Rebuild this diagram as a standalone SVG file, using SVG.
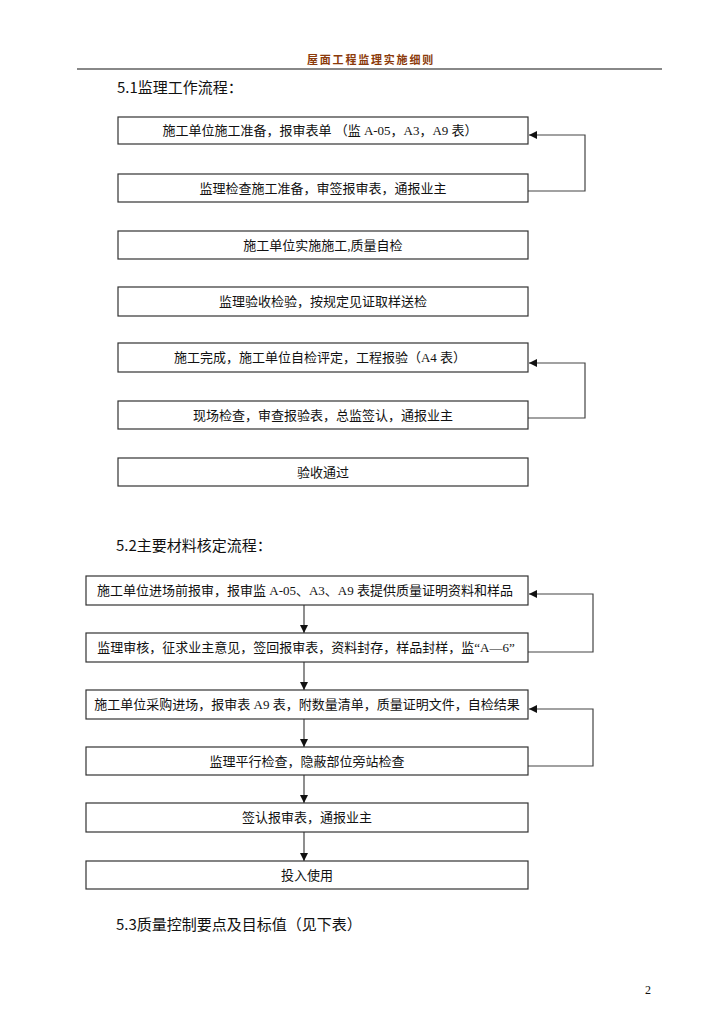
<svg xmlns="http://www.w3.org/2000/svg" width="726" height="1026" viewBox="0 0 726 1026">
<style>
.box{fill:#fff;stroke:#333;stroke-width:1.2}
.t{font-family:"Liberation Serif","Noto Sans CJK SC",serif;font-size:13px;fill:#111;text-anchor:middle}
.h{font-family:"Noto Sans CJK SC",sans-serif;font-size:15px;fill:#111}
.c{fill:none;stroke:#444;stroke-width:1.2}
</style>
<defs>
<marker id="ah" viewBox="0 0 8 8" refX="8" refY="4" markerWidth="8" markerHeight="8" markerUnits="userSpaceOnUse" orient="auto">
<path d="M0,0 L8,4 L0,8 Z" fill="#111"/>
</marker>
</defs>
<rect width="726" height="1026" fill="#fff"/>
<g id="header">
<text x="371" y="64" text-anchor="middle" font-family="Noto Sans CJK SC,sans-serif" font-size="11" font-weight="bold" letter-spacing="1.8" fill="#8B3A0A">屋面工程监理实施细则</text>
<line x1="77" y1="69" x2="662" y2="69" stroke="#888" stroke-width="2"/>
</g>
<text id="title1" class="h" x="117" y="93">5.1监理工作流程：</text>
<text id="title2" class="h" x="116" y="551">5.2主要材料核定流程：</text>
<text id="title3" class="h" x="116" y="930">5.3质量控制要点及目标值（见下表）</text>
<text id="pagenum" x="645" y="994" font-family="Liberation Serif,serif" font-size="12" fill="#111">2</text>

<g id="connectors">
<polyline class="c" points="528,191 585,191 585,135 529,135" marker-end="url(#ah)"/>
<polyline class="c" points="528,418 585,418 585,363 529,363" marker-end="url(#ah)"/>
<polyline class="c" points="528,652 593,652 593,594 529,594" marker-end="url(#ah)"/>
<polyline class="c" points="528,766 593,766 593,709 529,709" marker-end="url(#ah)"/>
<line class="c" x1="304" y1="605" x2="304" y2="633" marker-end="url(#ah)"/>
<line class="c" x1="304" y1="662" x2="304" y2="690" marker-end="url(#ah)"/>
<line class="c" x1="304" y1="719" x2="304" y2="747" marker-end="url(#ah)"/>
<line class="c" x1="304" y1="775" x2="304" y2="803" marker-end="url(#ah)"/>
<line class="c" x1="304" y1="832" x2="304" y2="861" marker-end="url(#ah)"/>
</g>

<g id="n1"><rect class="box" x="118" y="117" width="410" height="27"/><text class="t" x="320" y="135">施工单位施工准备，报审表单 （监 A-05，A3，A9 表）</text></g>
<g id="n2"><rect class="box" x="118" y="174" width="410" height="28"/><text class="t" x="323" y="193">监理检查施工准备，审签报审表，通报业主</text></g>
<g id="n3"><rect class="box" x="118" y="231" width="410" height="28"/><text class="t" x="323" y="250">施工单位实施施工,质量自检</text></g>
<g id="n4"><rect class="box" x="118" y="287" width="410" height="29"/><text class="t" x="323" y="306">监理验收检验，按规定见证取样送检</text></g>
<g id="n5"><rect class="box" x="118" y="343" width="410" height="29"/><text class="t" x="320" y="362">施工完成，施工单位自检评定，工程报验（A4 表）</text></g>
<g id="n6"><rect class="box" x="118" y="401" width="410" height="28"/><text class="t" x="323" y="420">现场检查，审查报验表，总监签认，通报业主</text></g>
<g id="n7"><rect class="box" x="118" y="458" width="410" height="28"/><text class="t" x="323" y="477">验收通过</text></g>

<g id="m1"><rect class="box" x="86" y="576" width="442" height="29"/><text class="t" x="305" y="595">施工单位进场前报审，报审监 A-05、A3、A9 表提供质量证明资料和样品</text></g>
<g id="m2"><rect class="box" x="86" y="633" width="442" height="29"/><text class="t" x="306" y="652">监理审核，征求业主意见，签回报审表，资料封存，样品封样，监“A—6”</text></g>
<g id="m3"><rect class="box" x="86" y="690" width="442" height="29"/><text class="t" x="307" y="709">施工单位采购进场，报审表 A9 表，附数量清单，质量证明文件，自检结果</text></g>
<g id="m4"><rect class="box" x="86" y="747" width="442" height="28"/><text class="t" x="307" y="766">监理平行检查，隐蔽部位旁站检查</text></g>
<g id="m5"><rect class="box" x="86" y="803" width="442" height="29"/><text class="t" x="307" y="822">签认报审表，通报业主</text></g>
<g id="m6"><rect class="box" x="86" y="861" width="442" height="28"/><text class="t" x="307" y="880">投入使用</text></g>
</svg>
